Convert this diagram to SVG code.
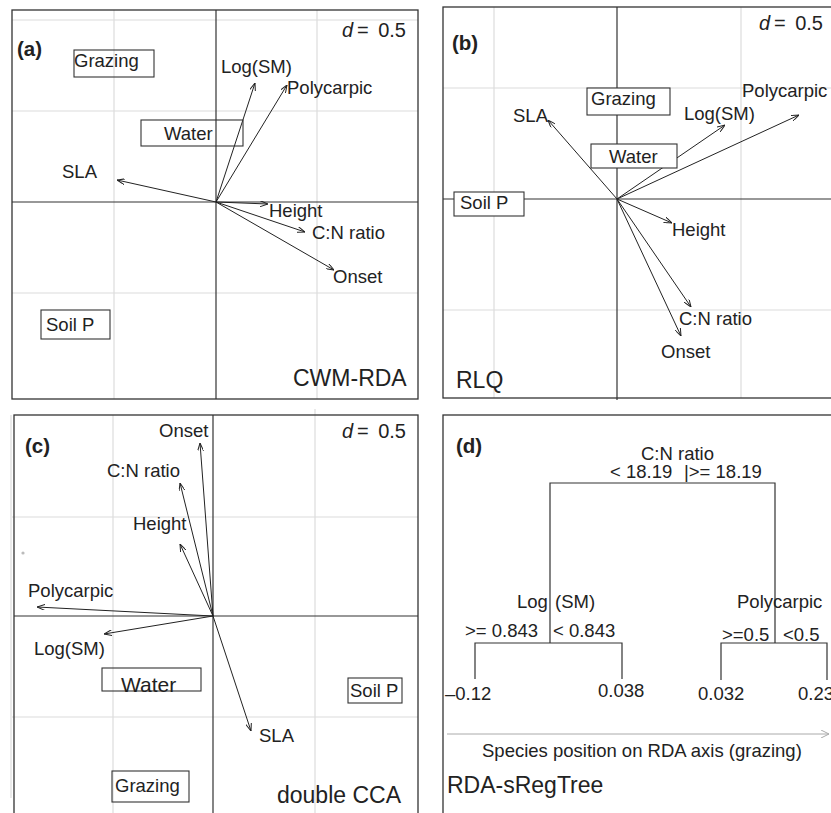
<svg xmlns="http://www.w3.org/2000/svg" width="831" height="813" viewBox="0 0 831 813">
<style>
text{font-family:"Liberation Sans",Arial,Helvetica,sans-serif;fill:#222;}
.lab{font-size:18.5px;}
.big{font-size:23px;}
.tag{font-size:20.5px;font-weight:bold;}
.d{font-size:20px;}
.frame{fill:none;stroke:#333;stroke-width:1.3;}
.grid{stroke:#dcdcdc;stroke-width:1.2;}
.axis{stroke:#333;stroke-width:1.2;}
.arr{stroke:#222;stroke-width:1;fill:none;marker-end:url(#ah);}
.box{fill:none;stroke:#333;stroke-width:1.1;}
.boxw{fill:#fff;stroke:#333;stroke-width:1.1;}
.tree{stroke:#333;stroke-width:1.2;fill:none;}
</style>
<defs>
<marker id="ah" viewBox="0 0 8 6" refX="8" refY="3" markerWidth="8" markerHeight="6" markerUnits="userSpaceOnUse" orient="auto">
<path d="M0,0 L8,3 L0,6" fill="none" stroke="#222" stroke-width="1"/>
</marker>
<marker id="gah" viewBox="0 0 8 8" refX="8" refY="4" markerWidth="8" markerHeight="8" markerUnits="userSpaceOnUse" orient="auto">
<path d="M0,0 L8,4 L0,8" fill="none" stroke="#aaa" stroke-width="1"/>
</marker>
</defs>
<rect width="831" height="813" fill="#fff"/>

<!-- Panel (a) -->
<g id="panel-a">
<g id="a-grid">
<line class="grid" x1="114" y1="10" x2="114" y2="399"/>
<line class="grid" x1="317" y1="10" x2="317" y2="399"/>
<line class="grid" x1="12" y1="20" x2="418" y2="20"/>
<line class="grid" x1="12" y1="111" x2="418" y2="111"/>
<line class="grid" x1="12" y1="293" x2="418" y2="293"/>
<line class="axis" x1="216" y1="10" x2="216" y2="399"/>
<line class="axis" x1="12" y1="202" x2="418" y2="202"/>
</g>
<rect class="frame" x="12" y="10" width="406" height="389"/>
<text class="tag" x="17" y="56">(a)</text>
<text class="d" x="342" y="37" font-style="italic">d</text>
<text class="d" x="357" y="37">=</text>
<text class="d" x="406" y="37" text-anchor="end">0.5</text>
<g id="a-connectors">
<line class="arr" x1="216" y1="202" x2="255" y2="83"/>
<line class="arr" x1="216" y1="202" x2="287" y2="85"/>
<line class="arr" x1="216" y1="202" x2="117" y2="180"/>
<line class="arr" x1="216" y1="202" x2="268" y2="204"/>
<line class="arr" x1="216" y1="202" x2="305" y2="232"/>
<line class="arr" x1="216" y1="202" x2="334" y2="270"/>
</g>
<g id="a-grazing"><rect class="box" x="74" y="50" width="80" height="27"/><text class="lab" x="74" y="67">Grazing</text></g>
<g id="a-water"><rect class="box" x="141" y="120" width="102" height="26"/><text class="lab" x="164" y="140">Water</text></g>
<g id="a-soilp"><rect class="box" x="41" y="310" width="69" height="29"/><text class="lab" x="46" y="331">Soil P</text></g>
<g id="a-logsm"><text class="lab" x="221" y="73">Log(SM)</text></g>
<g id="a-poly"><text class="lab" x="287" y="94">Polycarpic</text></g>
<g id="a-sla"><text class="lab" x="62" y="178">SLA</text></g>
<g id="a-height"><text class="lab" x="269" y="217">Height</text></g>
<g id="a-cn"><text class="lab" x="312" y="239">C:N ratio</text></g>
<g id="a-onset"><text class="lab" x="333" y="283">Onset</text></g>
<text class="big" x="293" y="386">CWM-RDA</text>
</g>

<!-- Panel (b) -->
<g id="panel-b">
<g id="b-grid">
<line class="grid" x1="494" y1="7" x2="494" y2="398"/>
<line class="grid" x1="741" y1="7" x2="741" y2="398"/>
<line class="grid" x1="443" y1="88" x2="831" y2="88"/>
<line class="grid" x1="443" y1="310" x2="831" y2="310"/>
<line class="axis" x1="617" y1="7" x2="617" y2="400"/>
<line class="axis" x1="443" y1="199" x2="831" y2="199"/>
</g>
<rect class="frame" x="443" y="7" width="400" height="391"/>
<text class="tag" x="452" y="50">(b)</text>
<text class="d" x="759" y="30" font-style="italic">d</text>
<text class="d" x="774" y="30">=</text>
<text class="d" x="823" y="30" text-anchor="end">0.5</text>
<g id="b-connectors">
<line class="arr" x1="617" y1="199" x2="548" y2="120"/>
<line class="arr" x1="617" y1="199" x2="725" y2="125"/>
<line class="arr" x1="617" y1="199" x2="799" y2="115"/>
<line class="arr" x1="617" y1="199" x2="672" y2="223"/>
<line class="arr" x1="617" y1="199" x2="691" y2="307"/>
<line class="arr" x1="617" y1="199" x2="681" y2="336"/>
</g>
<g id="b-grazing"><rect class="boxw" x="587" y="88" width="83" height="27"/><text class="lab" x="591" y="105">Grazing</text></g>
<g id="b-water"><rect class="boxw" x="591" y="144" width="86" height="24"/><text class="lab" x="609" y="163">Water</text></g>
<g id="b-soilp"><rect class="boxw" x="454" y="192" width="70" height="24"/><text class="lab" x="460" y="209">Soil P</text></g>
<g id="b-sla"><text class="lab" x="513" y="122">SLA</text></g>
<g id="b-logsm"><text class="lab" x="684" y="120">Log(SM)</text></g>
<g id="b-poly"><text class="lab" x="742" y="97">Polycarpic</text></g>
<g id="b-height"><text class="lab" x="672" y="236">Height</text></g>
<g id="b-cn"><text class="lab" x="679" y="325">C:N ratio</text></g>
<g id="b-onset"><text class="lab" x="661" y="358">Onset</text></g>
<text class="big" x="456" y="388">RLQ</text>
</g>

<!-- Panel (c) -->
<g id="panel-c">
<g id="c-grid">
<line class="grid" x1="113" y1="415" x2="113" y2="813"/>
<line class="grid" x1="315" y1="409" x2="315" y2="813"/>
<line class="grid" x1="12" y1="517" x2="418" y2="517"/>
<line class="grid" x1="12" y1="717" x2="418" y2="717"/>
<line class="grid" x1="11" y1="415" x2="11" y2="798"/>
<line class="axis" x1="213" y1="415" x2="213" y2="813"/>
<line class="axis" x1="14" y1="616" x2="418" y2="616"/>
</g>
<rect class="frame" x="14" y="415" width="404" height="410"/>
<circle cx="23" cy="553" r="1.6" fill="#bbb"/>
<text class="tag" x="25" y="453">(c)</text>
<text class="d" x="342" y="438" font-style="italic">d</text>
<text class="d" x="357" y="438">=</text>
<text class="d" x="406" y="438" text-anchor="end">0.5</text>
<g id="c-connectors">
<line class="arr" x1="213" y1="616" x2="200" y2="443"/>
<line class="arr" x1="213" y1="616" x2="180" y2="483"/>
<line class="arr" x1="213" y1="616" x2="180" y2="544"/>
<line class="arr" x1="213" y1="616" x2="37" y2="607"/>
<line class="arr" x1="213" y1="616" x2="104" y2="634"/>
<line class="arr" x1="213" y1="616" x2="251" y2="731"/>
</g>
<g id="c-onset"><text class="lab" x="159" y="437">Onset</text></g>
<g id="c-cn"><text class="lab" x="107" y="477">C:N ratio</text></g>
<g id="c-height"><text class="lab" x="133" y="530">Height</text></g>
<g id="c-poly"><text class="lab" x="28" y="597">Polycarpic</text></g>
<g id="c-logsm"><text class="lab" x="34" y="655">Log(SM)</text></g>
<g id="c-sla"><text class="lab" x="259" y="742">SLA</text></g>
<g id="c-water"><rect class="box" x="102" y="668" width="99" height="23"/><text x="121" y="692" style="font-size:21px">Water</text></g>
<g id="c-soilp"><rect class="box" x="348" y="678" width="54" height="25"/><text class="lab" x="350" y="697">Soil P</text></g>
<g id="c-grazing"><rect class="box" x="112" y="771" width="77" height="31"/><text class="lab" x="115" y="792">Grazing</text></g>
<text class="big" x="277" y="803">double CCA</text>
</g>

<!-- Panel (d) -->
<g id="panel-d">
<rect class="frame" x="443" y="415" width="400" height="410"/>
<text class="tag" x="456" y="453">(d)</text>
<g id="d-root"><text class="lab" x="641" y="460">C:N ratio</text>
<text class="lab" x="610" y="478">&lt; 18.19</text>
<text class="lab" x="684" y="478">|&gt;= 18.19</text></g>
<g id="d-connectors">
<path class="tree" d="M550,643 V483 H775 V643"/>
<path class="tree" d="M475,679 V643 H622 V679"/>
<path class="tree" d="M721,680 V643 H827 V680"/>
<line x1="447" y1="734" x2="829" y2="734" stroke="#aaa" stroke-width="1" marker-end="url(#gah)"/>
</g>
<g id="d-logsm"><text class="lab" x="517" y="608">Log</text><text class="lab" x="555" y="608">(SM)</text>
<text class="lab" x="465" y="637">&gt;= 0.843</text>
<text class="lab" x="553" y="637">&lt; 0.843</text></g>
<g id="d-poly"><text class="lab" x="737" y="608">Polycarpic</text>
<text class="lab" x="722" y="641">&gt;=0.5</text>
<text class="lab" x="783" y="641">&lt;0.5</text></g>
<g id="d-leaf1"><text class="lab" x="445" y="700">–0.12</text></g>
<g id="d-leaf2"><text class="lab" x="598" y="697">0.038</text></g>
<g id="d-leaf3"><text class="lab" x="698" y="700">0.032</text></g>
<g id="d-leaf4"><text class="lab" x="798" y="700">0.23</text></g>
<text class="lab" x="482" y="757">Species position on RDA axis (grazing)</text>
<text class="big" x="447" y="793">RDA-sRegTree</text>
</g>
</svg>
